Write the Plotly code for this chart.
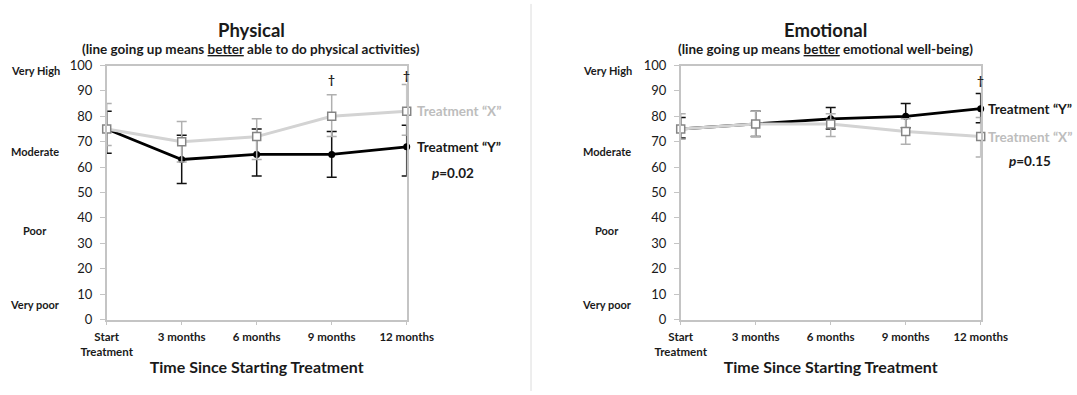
import plotly.graph_objects as go

# ---------------- data ----------------
time_labels = ["Start<br>Treatment", "3 months", "6 months", "9 months", "12 months"]
time_pos = [0, 1, 2, 3, 4]

y_tick_vals = [0, 10, 20, 30, 40, 50, 60, 70, 80, 90, 100]
level_labels = ["Very High", "Moderate", "Poor", "Very poor"]
level_values = [101.5, 66, 35, 2.5]

# Physical
phys_x = [75, 70, 72, 80, 82]
phys_x_up = [10, 8, 7, 8.5, 10.5]
phys_x_dn = [6.5, 8, 9, 8, 9.5]
phys_y = [75, 63, 65, 65, 68]
phys_y_up = [7, 9.5, 10, 9, 8.5]
phys_y_dn = [9.5, 9.5, 8.5, 9, 11.5]
phys_dagger_pos = [3, 4]
phys_dagger_val = [94.5, 96]
phys_p = "<i>p</i>=0.02"
phys_p_val = 57.5

# Emotional
emo_x = [75, 77, 77, 74, 72]
emo_x_up = [6, 5, 4, 5, 7.5]
emo_x_dn = [4, 5, 5, 5, 8]
emo_y = [75, 77, 79, 80, 83]
emo_y_up = [4.5, 5, 4.5, 5, 6]
emo_y_dn = [3.5, 5, 4, 4.5, 5.5]
emo_dagger_pos = [4]
emo_dagger_val = [94]
emo_p = "<i>p</i>=0.15"
emo_p_val = 62.5

label_x = "Treatment \u201cX\u201d"
label_y = "Treatment \u201cY\u201d"

# ---------------- style ----------------
W, H = 1077, 395
FONT = "Lato, 'Open Sans', sans-serif"
GRAY_LINE = "#d3d3d3"
GRAY_MARK = "#858585"
GRAY_ERR = "#b0b0b0"
GRAY_TEXT = "#bdbdbd"
AXIS = "#c4c4c4"
TXT = "#1a1a1a"

Y_TOP, Y_BOT = 65.5, 319.5


def val_to_paper(v):
    return 1 - (Y_BOT - (Y_BOT - Y_TOP) * v / 100) / H


fig = go.Figure()

panels = [
    dict(xa="x", ya="y", X=phys_x, Xu=phys_x_up, Xd=phys_x_dn,
         Y=phys_y, Yu=phys_y_up, Yd=phys_y_dn,
         dpos=phys_dagger_pos, dval=phys_dagger_val, p=phys_p, pval=phys_p_val,
         lab_shift=8, p_shift=46, lx=35),
    dict(xa="x2", ya="y2", X=emo_x, Xu=emo_x_up, Xd=emo_x_dn,
         Y=emo_y, Yu=emo_y_up, Yd=emo_y_dn,
         dpos=emo_dagger_pos, dval=emo_dagger_val, p=emo_p, pval=emo_p_val,
         lab_shift=5, p_shift=49, lx=607),
]

for P in panels:
    fig.add_trace(go.Scatter(
        x=time_pos, y=P["Y"], xaxis=P["xa"], yaxis=P["ya"], mode="lines+markers",
        line=dict(color="black", width=2.8),
        marker=dict(symbol="circle", size=7, color="black"),
        error_y=dict(type="data", symmetric=False, array=P["Yu"], arrayminus=P["Yd"],
                     color="#111111", thickness=1.5, width=5),
        cliponaxis=False, showlegend=False))
    fig.add_trace(go.Scatter(
        x=time_pos, y=P["X"], xaxis=P["xa"], yaxis=P["ya"], mode="lines+markers",
        line=dict(color=GRAY_LINE, width=3),
        marker=dict(symbol="square", size=8, color="white",
                    line=dict(color=GRAY_MARK, width=1.5)),
        error_y=dict(type="data", symmetric=False, array=P["Xu"], arrayminus=P["Xd"],
                     color=GRAY_ERR, thickness=1.5, width=5),
        cliponaxis=False, showlegend=False))
    # series labels
    fig.add_annotation(x=4, y=P["X"][-1], xref=P["xa"], yref=P["ya"], text="<b>" + label_x + "</b>",
                       showarrow=False, xanchor="left", xshift=P["lab_shift"],
                       font=dict(family=FONT, size=13.5, color=GRAY_TEXT))
    fig.add_annotation(x=4, y=P["Y"][-1], xref=P["xa"], yref=P["ya"], text="<b>" + label_y + "</b>",
                       showarrow=False, xanchor="left", xshift=P["lab_shift"],
                       font=dict(family=FONT, size=13.5, color=TXT))
    fig.add_annotation(x=4, y=P["pval"], xref=P["xa"], yref=P["ya"], text="<b>" + P["p"] + "</b>",
                       showarrow=False, xanchor="center", xshift=P["p_shift"],
                       font=dict(family=FONT, size=13.5, color=TXT))
    for dp, dv in zip(P["dpos"], P["dval"]):
        fig.add_annotation(x=dp, y=dv, xref=P["xa"], yref=P["ya"], text="<b>\u2020</b>",
                           showarrow=False, xanchor="center",
                           font=dict(family=FONT, size=12, color="#222222"))
    # qualitative level labels
    for lab, lv in zip(level_labels, level_values):
        fig.add_annotation(x=P["lx"] / W, y=val_to_paper(lv), xref="paper", yref="paper",
                           text="<b>" + lab + "</b>", showarrow=False, xanchor="center",
                           font=dict(family=FONT, size=11, color=TXT))

# titles
titles = [("Physical", "(line going up means <u>better</u> able to do physical activities)", 251),
          ("Emotional", "(line going up means <u>better</u> emotional well-being)", 825)]
for t, s, cx in titles:
    fig.add_annotation(x=cx / W, y=1 - 17 / H, xref="paper", yref="paper",
                       text="<b>" + t + "</b>", showarrow=False, xanchor="center",
                       font=dict(family=FONT, size=18.5, color=TXT))
    fig.add_annotation(x=cx / W, y=1 - 39 / H, xref="paper", yref="paper",
                       text="<b>" + s + "</b>", showarrow=False, xanchor="center",
                       font=dict(family=FONT, size=13.5, color=TXT))

# separator
fig.add_shape(type="line", xref="paper", yref="paper", x0=531 / W, x1=531 / W,
              y0=0.01, y1=0.99, line=dict(color="#dcdcdc", width=1))

xcommon = dict(range=[0, 4], tickvals=time_pos, ticktext=["<b>" + t + "</b>" for t in time_labels],
               showline=True, linecolor=AXIS, linewidth=1.5, mirror=True, showgrid=False,
               zeroline=False, ticks="outside", ticklen=4, tickcolor=AXIS, tickwidth=1.2,
               tickfont=dict(family=FONT, size=11.5, color=TXT), ticklabelstandoff=2,
               automargin=False,
               title=dict(text="<b>Time Since Starting Treatment</b>", standoff=5,
                          font=dict(family=FONT, size=16, color=TXT)),
               fixedrange=True)
ycommon = dict(range=[0, 100], tickvals=y_tick_vals, showline=True, linecolor=AXIS, linewidth=1.5,
               mirror=True, showgrid=False, zeroline=False, ticks="outside", ticklen=5,
               tickcolor=AXIS, tickwidth=1.2, tickfont=dict(family=FONT, size=13, color=TXT),
               tickprefix="<b>", ticksuffix="</b>", ticklabelstandoff=5, automargin=False,
               fixedrange=True)

fig.update_layout(
    template="none",
    width=W, height=H, margin=dict(l=0, r=0, t=0, b=0, autoexpand=False),
    paper_bgcolor="white", plot_bgcolor="white",
    xaxis=dict(domain=[106.7 / W, 406.7 / W], anchor="y", **xcommon),
    yaxis=dict(domain=[1 - Y_BOT / H, 1 - Y_TOP / H], anchor="x", **ycommon),
    xaxis2=dict(domain=[680.7 / W, 980.7 / W], anchor="y2", **xcommon),
    yaxis2=dict(domain=[1 - Y_BOT / H, 1 - Y_TOP / H], anchor="x2", **ycommon),
    font=dict(family=FONT, color=TXT),
)

fig.write_html("out.html")
